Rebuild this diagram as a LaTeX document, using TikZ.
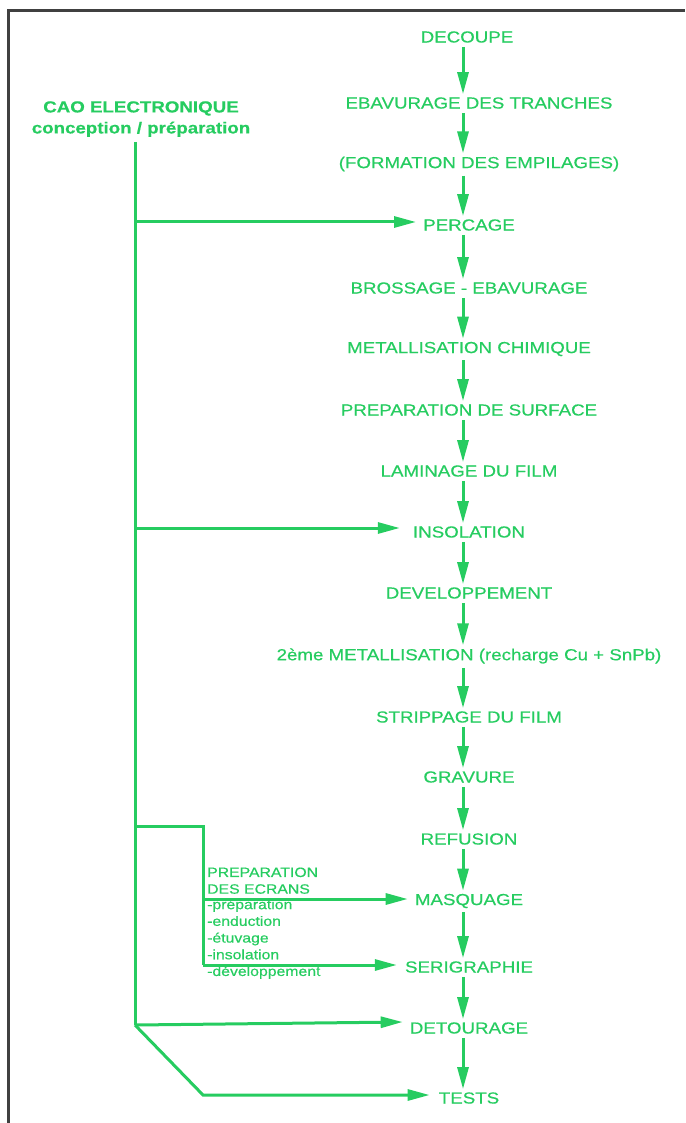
\documentclass[tikz,border=0pt]{standalone}
\usepackage{fontspec}
\setmainfont{Liberation Sans}[FakeStretch=1.17,FakeBold=0.5]
\usepackage{tikz}
\usetikzlibrary{positioning,arrows.meta}
\definecolor{vert}{RGB}{38,204,96}
\tikzset{
  etape/.style={text=vert,font=\fontsize{16}{18}\selectfont,inner sep=1pt},
  fl/.style={draw=vert,line width=3pt,-{Triangle[width=11pt,length=22pt]}},
  trait/.style={draw=vert,line width=3pt},
  petit/.style={text=vert,font=\fontsize{13.5}{16.7}\selectfont,align=left,inner sep=0pt}
}

\begin{document}
\begin{tikzpicture}[x=1pt,y=-1pt,node distance=61pt,on grid]
    \useasboundingbox (0,0) rectangle (685,1123);
    % bord du document scanne
    \draw[black!75,line width=3pt] (8,1123) -- (8,11) -- (685,11);

    \node[etape] (dec) at (467,37) {DECOUPE};
    \node[etape,below=66pt of dec,xshift=12pt] (ebv) {EBAVURAGE DES TRANCHES};
    \node[etape,below=of ebv] (emp) {(FORMATION DES EMPILAGES)};
    \node[etape,below=of emp,xshift=-10pt] (per) {PERCAGE};
    \node[etape,below=63pt of per] (bro) {BROSSAGE - EBAVURAGE};
    \node[etape,below=of bro] (met) {METALLISATION CHIMIQUE};
    \node[etape,below=of met] (sur) {PREPARATION DE SURFACE};
    \node[etape,below=of sur] (lam) {LAMINAGE DU FILM};
    \node[etape,below=of lam] (ins) {INSOLATION};
    \node[etape,below=of ins] (dev) {DEVELOPPEMENT};
    \node[etape,below=63pt of dev] (rec) {2ème METALLISATION (recharge Cu + SnPb)};
    \node[etape,below=of rec] (str) {STRIPPAGE DU FILM};
    \node[etape,below=60pt of str] (gra) {GRAVURE};
    \node[etape,below=62pt of gra] (ref) {REFUSION};
    \node[etape,below=62pt of ref] (mas) {MASQUAGE};
    \node[etape,below=66pt of mas] (ser) {SERIGRAPHIE};
    \node[etape,below=of ser] (det) {DETOURAGE};
    \node[etape,below=70pt of det] (tes) {TESTS};

    \coordinate (axe) at (463,0);
    \foreach \a/\b in {dec/ebv,ebv/emp,emp/per,per/bro,bro/met,met/sur,sur/lam,
      lam/ins,ins/dev,dev/rec,rec/str,str/gra,gra/ref,ref/mas,mas/ser,ser/det,det/tes}
      \draw[fl] ([yshift=-3pt]axe |- \a.south) -- ([yshift=2pt]axe |- \b.north);

    % CAO
    \node[etape,font=\bfseries\fontsize{16}{21}\selectfont,align=center] (cao) at (141,119)
      {CAO ELECTRONIQUE\\conception / préparation};
    \coordinate (t0) at (135,142);
    \coordinate (t1) at (135,222);
    \coordinate (t2) at (135,528);
    \coordinate (t3) at (135,826);
    \coordinate (t4) at (135,1025);
    \coordinate (e0) at (203,826);
    \coordinate (e1) at (203,899);
    \coordinate (e2) at (203,965);
    \coordinate (tb) at (203,1095);

    \draw[trait] (t0) -- (t4);
    \draw[fl] (t1) -- ([xshift=-6pt]per.west |- t1);
    \draw[fl] (t2) -- ([xshift=-12pt]ins.west |- t2);
    \draw[trait] (t3) -- (e0) -- (e2);
    \draw[fl] (e1) -- ([xshift=-6pt]mas.west |- e1);
    \draw[fl] (e2) -- ([xshift=-7pt]ser.west |- e2);
    \draw[fl] (t4) -- ([xshift=-6pt,yshift=3pt]det.west |- t4);
    \draw[fl] (t4) -- (tb) -- ([xshift=-8pt]tes.west |- tb);

    \node[petit,anchor=south west] (ecr) at (207,894) {PREPARATION\\DES ECRANS};
    \node[petit,anchor=north west] (ops) at (207,899)
      {-préparation\\-enduction\\-étuvage\\-insolation\\-développement};
\end{tikzpicture}
\end{document}
